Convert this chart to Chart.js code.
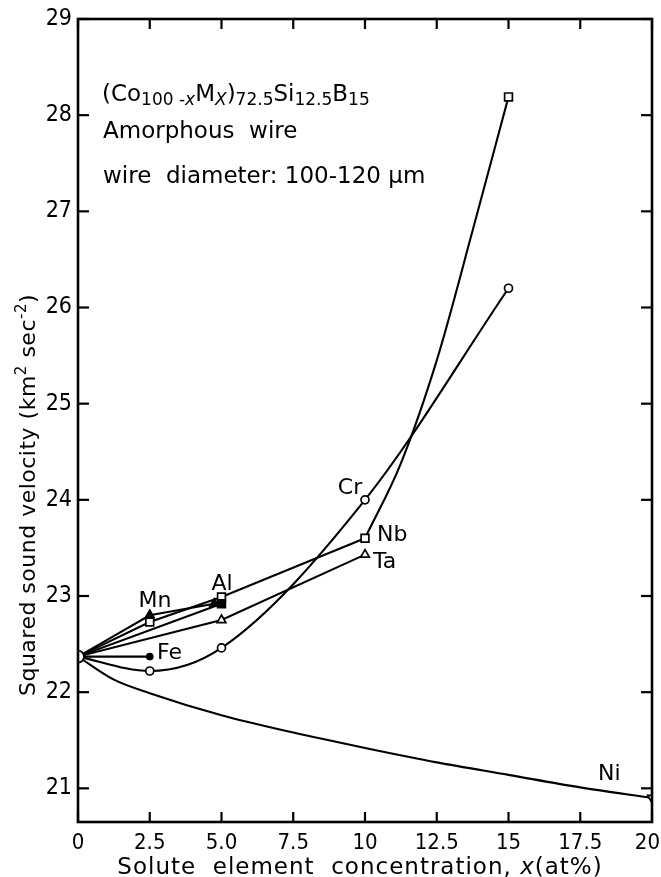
<!DOCTYPE html>
<html>
<head>
<meta charset="utf-8">
<script src="https://cdn.jsdelivr.net/npm/chart.js@4"></script>
<style>
  body { margin: 0; background: #fff; }
  #wrap { width: 661px; height: 877px; position: relative; }
</style>
</head>
<body>
<div id="wrap"><canvas id="myChart"></canvas></div>
<script>
// ticks of the two axes
let xTicks = [0, 2.5, 5, 7.5, 10, 12.5, 15, 17.5, 20];
let xTickLabels = ["0", "2.5", "5.0", "7.5", "10", "12.5", "15", "17.5", "20"];
let yTicks = [21, 22, 23, 24, 25, 26, 27, 28, 29];

// common starting point (pure Co alloy)
let originX = [0];
let originY = [22.37];

// one series per solute element M
let mnX = [0, 2.5, 4.75];
let mnY = [22.37, 22.80, 22.92];
let alX = [0, 5];
let alY = [22.37, 22.92];
let feX = [0, 2.5];
let feY = [22.37, 22.37];
let crX = [0, 2.5, 5, 10, 15];
let crY = [22.37, 22.22, 22.46, 24.0, 26.2];
let nbX = [0, 2.5, 5, 10];
let nbY = [22.37, 22.73, 22.99, 23.6];
// steep curved part of Nb, middle values (no markers there)
let nbHighX = [10, 11.25, 12.5, 13.75, 15];
let nbHighY = [23.6, 24.38, 25.45, 26.8, 28.19];
let taX = [0, 5, 10];
let taY = [22.37, 22.75, 23.43];
// Ni curve, marker only at x=20
let niX = [0, 1.25, 2.5, 5, 7.5, 10, 12.5, 15, 17.5, 20];
let niY = [22.37, 22.13, 21.99, 21.76, 21.58, 21.42, 21.27, 21.14, 21.01, 20.9];

// element names written next to the curves (data coords)
let labelText = ["Mn", "Al", "Fe", "Cr", "Nb", "Ta", "Ni"];
let labelX = [2.68, 5.02, 2.75, 9.48, 10.42, 10.28, 18.51];
let labelY = [22.95, 23.12, 22.40, 24.12, 23.63, 23.35, 21.15];
let labelAlign = ["center", "center", "left", "center", "left", "left", "center"];

let FONT = "'DejaVu Sans', sans-serif";
let NUMFONT = "'DejaVu Sans Condensed', 'DejaVu Sans', sans-serif";
let LW = 2.1;

function pts(xs, ys) {
    return xs.map((x, i) => ({ x: x, y: ys[i] }));
}

// hide the marker at x=0, the big origin circle covers it
function hideFirst(r) {
    return (c) => c.dataIndex == 0 ? 0 : r;
}
function onlyLast(r, n) {
    return (c) => c.dataIndex == n - 1 ? r : 0;
}

function series(xs, ys, style, r, fill, extra) {
    let ds = {
        data: pts(xs, ys),
        borderColor: "#000",
        borderWidth: LW,
        pointStyle: style,
        pointRadius: hideFirst(r),
        pointBackgroundColor: fill,
        pointBorderColor: "#000",
        pointBorderWidth: 1.7,
        tension: 0,
        fill: false
    };
    return Object.assign(ds, extra || {});
}

// draws the text pieces one after another (for sub scripts / italics)
function drawPieces(ctx, pieces, x, y) {
    for (let p of pieces) {
        ctx.font = (p.it ? "italic " : "") + p.size + "px " + FONT;
        ctx.fillText(p.t, x, y + (p.dy || 0));
        x += ctx.measureText(p.t).width;
    }
    return x;
}
function piecesWidth(ctx, pieces) {
    let w = 0;
    for (let p of pieces) {
        ctx.font = (p.it ? "italic " : "") + p.size + "px " + FONT;
        w += ctx.measureText(p.t).width;
    }
    return w;
}

function line(ctx, x1, y1, x2, y2) {
    ctx.beginPath();
    ctx.moveTo(x1, y1);
    ctx.lineTo(x2, y2);
    ctx.stroke();
}

let annotate = {
    id: "annotate",
    afterDraw(chart) {
        let ctx = chart.ctx;
        let a = chart.chartArea;
        let xs = chart.scales.x;
        let ys = chart.scales.y;
        ctx.save();
        ctx.strokeStyle = "#000";
        ctx.fillStyle = "#000";

        // frame + inward ticks on all four sides
        ctx.lineWidth = 2.6;
        ctx.strokeRect(a.left, a.top, a.right - a.left, a.bottom - a.top);
        ctx.lineWidth = 2.2;
        for (let v of xTicks) {
            let px = xs.getPixelForValue(v);
            line(ctx, px, a.bottom, px, a.bottom - 10);
            line(ctx, px, a.top, px, a.top + 10);
        }
        for (let v of yTicks) {
            let py = ys.getPixelForValue(v);
            line(ctx, a.left, py, a.left + 11, py);
            line(ctx, a.right, py, a.right - 11, py);
        }

        // x tick labels, the last one kept inside the canvas
        ctx.font = "22px " + NUMFONT;
        ctx.textAlign = "center";
        ctx.textBaseline = "top";
        for (let i = 0; i < xTicks.length; i++) {
            let w = ctx.measureText(xTickLabels[i]).width;
            let px = Math.min(xs.getPixelForValue(xTicks[i]), chart.width - w / 2 - 1);
            ctx.fillText(xTickLabels[i], px, a.bottom + 10);
        }

        // element labels
        ctx.font = "22px " + FONT;
        ctx.textBaseline = "middle";
        for (let i = 0; i < labelText.length; i++) {
            ctx.textAlign = labelAlign[i];
            ctx.fillText(labelText[i], xs.getPixelForValue(labelX[i]), ys.getPixelForValue(labelY[i]));
        }

        // composition text block
        ctx.textAlign = "left";
        ctx.textBaseline = "alphabetic";
        let tx = a.left + 24;
        drawPieces(ctx, [
            { t: "(Co", size: 23 },
            { t: "100 -", size: 17, dy: 4 },
            { t: "x", size: 17, dy: 4, it: true },
            { t: "M", size: 23 },
            { t: "X", size: 17, dy: 4, it: true },
            { t: ")", size: 23 },
            { t: "72.5", size: 17, dy: 4 },
            { t: "Si", size: 23 },
            { t: "12.5", size: 17, dy: 4 },
            { t: "B", size: 23 },
            { t: "15", size: 17, dy: 4 }
        ], tx, a.top + 82);
        ctx.font = "23px " + FONT;
        ctx.fillText("Amorphous  wire", tx + 1, a.top + 119);
        ctx.fillText("wire  diameter: 100-120 \u00b5m", tx + 1, a.top + 164);

        // x axis title
        ctx.letterSpacing = "1px";
        let xt = [
            { t: "Solute  element  concentration, ", size: 23 },
            { t: "x", size: 23, it: true },
            { t: "(at%)", size: 23 }
        ];
        let w = piecesWidth(ctx, xt);
        drawPieces(ctx, xt, 360 - w / 2, 874);

        // y axis title, rotated
        ctx.letterSpacing = "0.5px";
        let yt = [
            { t: "Squared sound velocity (km", size: 22 },
            { t: "2", size: 15, dy: -9 },
            { t: " sec", size: 22 },
            { t: "-2", size: 15, dy: -9 },
            { t: ")", size: 22 }
        ];
        ctx.translate(35, 495);
        ctx.rotate(-Math.PI / 2);
        w = piecesWidth(ctx, yt);
        drawPieces(ctx, yt, -w / 2, 0);
        ctx.restore();
    }
};

let datasets = [
    { data: pts(originX, originY), showLine: false, pointStyle: "circle", pointRadius: 6,
      pointBackgroundColor: "#fff", pointBorderColor: "#000", pointBorderWidth: 1.9 },
    series(mnX, mnY, "triangle", 5, "#000"),
    series(alX, alY, "rect", 5.5, "#000"),
    series(feX, feY, "circle", 3, "#000"),
    series(crX, crY, "circle", 4, "#fff", { cubicInterpolationMode: "monotone" }),
    series(nbX, nbY, "rect", 5.5, "#fff"),
    series(nbHighX, nbHighY, "rect", 5.5, "#fff", { cubicInterpolationMode: "monotone",
        pointRadius: onlyLast(5.5, nbHighX.length) }),
    series(taX, taY, "triangle", 5, "#fff"),
    series(niX, niY, "triangle", 5, "#fff", { cubicInterpolationMode: "monotone",
        pointRadius: onlyLast(5, niX.length), pointRotation: 180 })
];

new Chart("myChart", {
    type: "line",
    data: { datasets: datasets },
    plugins: [annotate],
    options: {
        responsive: true,
        maintainAspectRatio: false,
        animation: false,
        layout: { padding: { top: 19, right: 9, left: 0, bottom: 0 } },
        plugins: { legend: { display: false }, tooltip: { enabled: false } },
        scales: {
            x: {
                type: "linear",
                min: 0,
                max: 20,
                afterBuildTicks: (s) => { s.ticks = xTicks.map(v => ({ value: v })); },
                afterFit: (s) => { s.height = 55; s.paddingLeft = 0; s.paddingRight = 0; },
                grid: { display: false, drawTicks: false },
                border: { display: false },
                // labels are drawn by the annotate plugin
                ticks: { display: false }
            },
            y: {
                min: 20.65,
                max: 29,
                afterBuildTicks: (s) => { s.ticks = yTicks.map(v => ({ value: v })); },
                afterFit: (s) => { s.width = 78; s.paddingTop = 0; s.paddingBottom = 0; },
                grid: { display: false, drawTicks: false },
                border: { display: false },
                ticks: {
                    padding: 6,
                    color: "#000",
                    font: { family: NUMFONT, size: 23 }
                }
            }
        }
    }
});
</script>
</body>
</html>
